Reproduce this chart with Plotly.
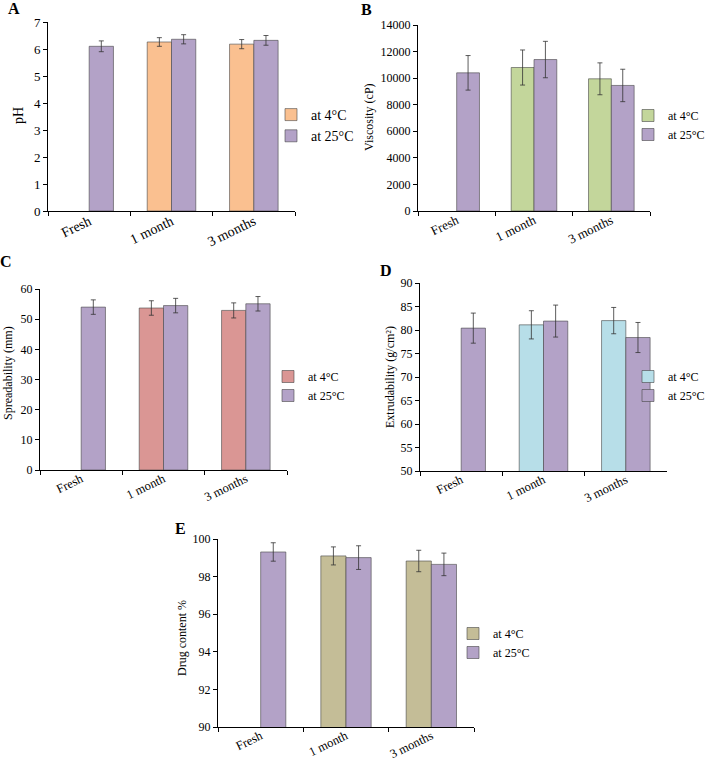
import plotly.graph_objects as go

categories = ["Fresh", "1 month", "3 months"]
series_names = ["at 4°C", "at 25°C"]

ph_4c = [None, 6.26, 6.18]
ph_4c_err = [0, 0.16, 0.17]
ph_25c = [6.10, 6.36, 6.32]
ph_25c_err = [0.20, 0.17, 0.18]

visc_4c = [None, 10800, 9950]
visc_4c_err = [0, 1320, 1200]
visc_25c = [10400, 11400, 9450]
visc_25c_err = [1300, 1370, 1220]

spread_4c = [None, 53.7, 52.9]
spread_4c_err = [0, 2.4, 2.5]
spread_25c = [54.0, 54.5, 55.1]
spread_25c_err = [2.4, 2.4, 2.4]

extr_4c = [None, 81.1, 82.0]
extr_4c_err = [0, 3.0, 2.8]
extr_25c = [80.4, 81.9, 78.4]
extr_25c_err = [3.2, 3.4, 3.2]

drug_4c = [None, 99.10, 98.83]
drug_4c_err = [0, 0.48, 0.57]
drug_25c = [99.31, 99.01, 98.65]
drug_25c_err = [0.49, 0.63, 0.60]

W, H = 713, 764
FONT = "Liberation Serif"
PURPLE = "#B3A2C7"

panels = [
    dict(letter="A", ytitle="pH", v4=ph_4c, e4=ph_4c_err, v25=ph_25c, e25=ph_25c_err,
         c4="#FAC090", yr=[0, 7], dt=1, box=(48, 295, 22, 211), tf=13, xtf=14, lf=14,
         leg=(271, 99), let=(14, 8), yt=(18, 116), ytf=14),
    dict(letter="B", ytitle="Viscosity (cP)", v4=visc_4c, e4=visc_4c_err, v25=visc_25c, e25=visc_25c_err,
         c4="#C3D69B", yr=[0, 14000], dt=2000, box=(418, 650, 25, 211), tf=12, xtf=13, lf=12,
         leg=(628, 101), let=(366, 10), yt=(369, 117), ytf=12),
    dict(letter="C", ytitle="Spreadability (mm)", v4=spread_4c, e4=spread_4c_err, v25=spread_25c, e25=spread_25c_err,
         c4="#DA9694", yr=[0, 60], dt=10, box=(40, 287, 289, 470), tf=12, xtf=12.5, lf=12,
         leg=(268, 362), let=(6, 262), yt=(8, 373), ytf=12),
    dict(letter="D", ytitle="Extrudability (g/cm²)", v4=extr_4c, e4=extr_4c_err, v25=extr_25c, e25=extr_25c_err,
         c4="#B7DEE8", yr=[50, 90], dt=5, box=(420, 667, 283, 471), tf=12, xtf=12.5, lf=12,
         leg=(628, 362), let=(386, 270), yt=(390, 377), ytf=12),
    dict(letter="E", ytitle="Drug content %", v4=drug_4c, e4=drug_4c_err, v25=drug_25c, e25=drug_25c_err,
         c4="#C4BD97", yr=[90, 100], dt=2, box=(218, 474, 539, 727), tf=12, xtf=12.5, lf=12,
         leg=(453, 619), let=(180, 528), yt=(182, 638), ytf=12),
]

fig = go.Figure()
annotations = []
layout = {}

for i, p in enumerate(panels):
    n = i + 1
    sfx = "" if n == 1 else str(n)
    xa, ya = "x" + sfx, "y" + sfx
    leg = "legend" + sfx
    for name, vals, errs, col in [(series_names[0], p["v4"], p["e4"], p["c4"]),
                                  (series_names[1], p["v25"], p["e25"], PURPLE)]:
        fig.add_trace(go.Bar(
            x=categories, y=vals, name=name, xaxis=xa, yaxis=ya, legend=leg,
            marker=dict(color=col, line=dict(color="rgba(70,70,70,0.75)", width=0.8)),
            error_y=dict(type="data", array=errs, visible=True, color="#333333", thickness=0.8, width=2.5),
        ))
    x0, x1, y0, y1 = p["box"]
    layout["xaxis" + sfx] = dict(
        domain=[x0 / W, x1 / W], anchor=ya, type="category", automargin=False,
        showline=True, linecolor="black", linewidth=1, ticks="outside", ticklen=4,
        tickson="boundaries", tickcolor="black", tickangle=-26, ticklabelstandoff=-4,
        tickfont=dict(family=FONT, size=p["xtf"], color="black"), showgrid=False,
    )
    layout["yaxis" + sfx] = dict(
        domain=[1 - y1 / H, 1 - y0 / H], anchor=xa, range=p["yr"], dtick=p["dt"],
        tickformat="d", automargin=False,
        showline=True, linecolor="black", linewidth=1, ticks="outside", ticklen=4,
        tickcolor="black", tickfont=dict(family=FONT, size=p["tf"], color="black"),
        showgrid=False, zeroline=False,
    )
    lx, ly = p["leg"]
    layout[leg] = dict(x=lx / W, y=1 - ly / H, xanchor="left", yanchor="top",
                       bgcolor="rgba(0,0,0,0)", font=dict(family=FONT, size=p["lf"], color="black"),
                       itemwidth=30, tracegroupgap=0)
    annotations.append(dict(text="<b>" + p["letter"] + "</b>", x=p["let"][0] / W, y=1 - p["let"][1] / H,
                            xref="paper", yref="paper", showarrow=False, xanchor="center", yanchor="middle",
                            font=dict(family=FONT, size=16, color="black")))
    annotations.append(dict(text=p["ytitle"], x=p["yt"][0] / W, y=1 - p["yt"][1] / H,
                            xref="paper", yref="paper", showarrow=False, textangle=-90,
                            xanchor="center", yanchor="middle",
                            font=dict(family=FONT, size=p["ytf"], color="black")))

fig.update_layout(
    width=W, height=H, margin=dict(l=0, r=0, t=0, b=0, autoexpand=False),
    paper_bgcolor="white", plot_bgcolor="white",
    barmode="group", bargap=0.41, bargroupgap=0,
    annotations=annotations, **layout,
)

fig.write_html("out.html", config={"displayModeBar": False},
               post_script="document.body.style.margin='0';")
